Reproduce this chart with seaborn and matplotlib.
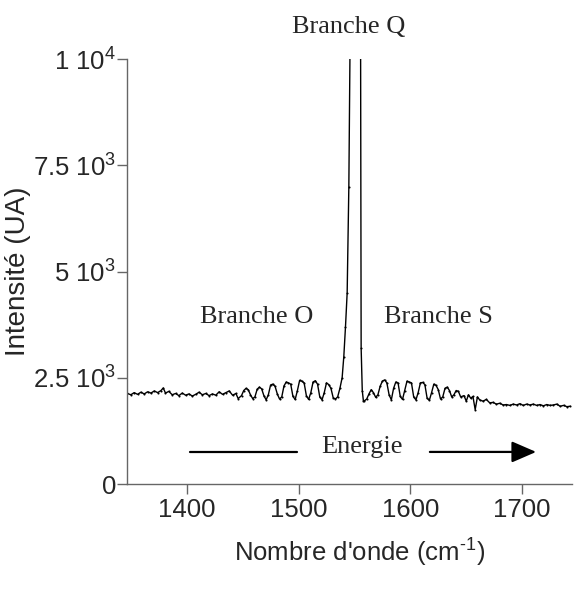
import pandas as pd
import matplotlib
matplotlib.use('Agg')
import matplotlib.pyplot as plt
import seaborn as sns

# nombre d'onde (cm-1)
onde = [1347, 1350, 1353, 1356, 1359, 1362, 1365, 1368, 1371, 1374, 1377, 1379, 1381, 1384,
        1387, 1390, 1393, 1396, 1399, 1402, 1405, 1408, 1411, 1414, 1417, 1420, 1423, 1426,
        1429, 1432, 1435, 1438, 1441, 1444,
        1446, 1449, 1451, 1453, 1455, 1457, 1459, 1461, 1463, 1465, 1467, 1469, 1471, 1473,
        1475, 1477, 1479, 1481, 1483, 1485, 1487, 1489, 1491, 1493, 1495, 1497, 1499, 1501,
        1503, 1505, 1507, 1509, 1511, 1513, 1515, 1517, 1519, 1521, 1523, 1525, 1527, 1529,
        1531, 1533, 1535, 1537, 1539, 1540.5, 1542, 1543.5, 1545, 1546, 1548, 1550, 1552,
        1554, 1555.5, 1556, 1557, 1558,
        1559, 1561, 1563, 1565, 1567, 1569, 1571, 1573, 1575, 1577, 1579, 1581, 1583, 1585,
        1587, 1589, 1591, 1593, 1595, 1597, 1599, 1601, 1603, 1605, 1607, 1609, 1611, 1613,
        1615, 1617, 1619, 1621, 1623, 1625, 1627, 1629, 1631, 1633, 1635, 1637, 1639, 1641,
        1643, 1645, 1648,
        1650, 1652, 1654, 1656, 1658, 1660, 1662, 1665, 1668, 1671, 1674, 1677, 1680, 1683,
        1686, 1689, 1692, 1695, 1698, 1701, 1704, 1707, 1710, 1713, 1716, 1719, 1722, 1725,
        1728, 1731, 1734, 1737, 1740, 1743]

intensite = [2130, 2100, 2150, 2110, 2160, 2120, 2170, 2140, 2190, 2150, 2200, 2260, 2140, 2180,
             2100, 2130, 2080, 2140, 2090, 2120, 2070, 2110, 2160, 2100, 2130, 2080, 2120, 2090,
             2170, 2110, 2150, 2190, 2090, 2130,
             2010, 2080, 2200, 2250, 2220, 2100, 2010, 2050, 2230, 2280, 2240, 2080, 1980, 2100,
             2330, 2350, 2300, 2120, 2000, 2050, 2310, 2400, 2380, 2350, 2060, 1990, 2200, 2440,
             2420, 2380, 2080, 1990, 2150, 2400, 2430, 2350, 2050, 1980, 2150, 2380, 2340, 2250,
             2030, 2000, 2050, 2250, 2500, 3000, 3700, 4500, 7000, 10200, 16000, 20000, 18000,
             14000, 10500, 3200, 2200, 1960,
             1960, 2000, 2120, 2220, 2150, 2040, 2100, 2300, 2420, 2450, 2380, 2100, 1980, 2250,
             2400, 2380, 2060, 1990, 2200, 2420, 2400, 2380, 2050, 1980, 2150, 2380, 2390, 2340,
             2020, 1970, 2150, 2350, 2320, 2220, 2000, 2050, 2250, 2280, 2200, 2050, 2100, 2200,
             2180, 2050, 2080,
             1950, 2100, 2020, 2060, 1750, 2050, 1980, 1950, 1990, 1910, 1920, 1880, 1900, 1860,
             1870, 1850, 1880, 1860, 1890, 1850, 1880, 1860, 1880, 1850, 1870, 1840, 1870, 1850,
             1860, 1880, 1830, 1850, 1820, 1830]

yticks = [0, 2500, 5000, 7500, 10000]
ytick_labels = ['0', '2.5 10$^{3}$', '5 10$^{3}$', '7.5 10$^{3}$', '1 10$^{4}$']
xticks = [1400, 1500, 1600, 1700]

sns.set_style('ticks')
plt.rcParams['font.family'] = ['Liberation Sans', 'DejaVu Sans']
plt.rcParams['mathtext.default'] = 'regular'

df = pd.DataFrame({'onde': onde, 'intensite': intensite})

fig = plt.figure(figsize=(5.74, 5.92), dpi=100)
ax = fig.add_axes([0.2213, 0.1824, 0.776, 0.7179])
sns.lineplot(data=df, x='onde', y='intensite', ax=ax, color='black', linewidth=1.0,
             marker='o', markersize=1.5, markeredgewidth=0)

ax.set_xlim(1346.6, 1745)
ax.set_ylim(0, 10000)
ax.set_xticks(xticks)
ax.set_yticks(yticks)
ax.set_yticklabels(ytick_labels)
ax.tick_params(axis='both', labelsize=18.5, length=7, width=1, color='#666666', direction='out')
ax.tick_params(axis='x', pad=3)
ax.tick_params(axis='y', pad=1)
for s in ['top', 'right']:
    ax.spines[s].set_visible(False)
for s in ['left', 'bottom']:
    ax.spines[s].set_color('#666666')
    ax.spines[s].set_linewidth(1)

ax.set_ylabel('Intensité (UA)', fontsize=20, labelpad=1)
ax.set_xlabel("Nombre d'onde (cm$^{\u2010 1}$)", fontsize=18.5, labelpad=11, x=0.523)

serif = 'Liberation Serif'
ax.text(1545, 10750, 'Branche Q', family=serif, fontsize=19, ha='center', va='center')
ax.text(1463, 3920, 'Branche O', family=serif, fontsize=19, ha='center', va='center')
ax.text(1625.5, 3920, 'Branche S', family=serif, fontsize=19, ha='center', va='center')
ax.text(1557, 880, 'Energie', family=serif, fontsize=19, ha='center', va='center')

ax.plot([1402.7, 1498.8], [755, 755], color='black', linewidth=1.6)
ax.annotate('', xy=(1715, 755), xytext=(1615, 755),
            arrowprops=dict(arrowstyle='-|>,head_length=1.5,head_width=0.65',
                            color='black', linewidth=1.6))

plt.savefig('out.png', dpi=100)
